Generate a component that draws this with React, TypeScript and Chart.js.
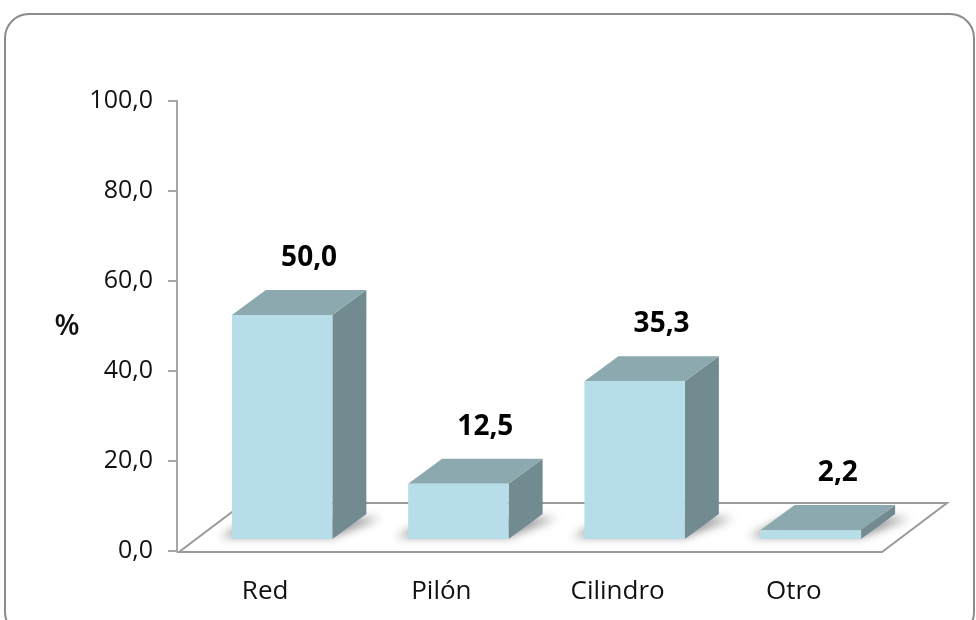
import { useEffect, useRef } from 'react';
import { Chart, registerables } from 'chart.js';

Chart.register(...registerables);

// ---- data ----
const categories = ['Red', 'Pilón', 'Cilindro', 'Otro'];
const percentages = [50.0, 12.5, 35.3, 2.2];
const yMin = 0;
const yMax = 100;
const yStep = 20;
const yTitle = '%';

// ---- styling ----
const FONT = '"Open Sans", "Liberation Sans", sans-serif';
const TEXT = '#111111';
const AXIS = '#A6A6A6';
const FRAME = '#8C8C8C';
const FLOOR_LINE = '#9A9A9A';
const FACE_FRONT = '#B7DEE8';
const FACE_TOP = '#8BA9AF';
const FACE_SIDE = '#728B90';

// oblique projection of the floor and bars
const FLOOR_DX = 65;
const FLOOR_DY = 49;
const BAR_SHIFT_X = 17;
const BAR_SHIFT_Y = 11;
const BAR_DX = 34;
const BAR_DY = 25;

const fmt = (v: number) => Number(v).toFixed(1).replace('.', ',');

const framePlugin = {
  id: 'frame',
  beforeDraw(chart: any) {
    const ctx = chart.ctx;
    ctx.save();
    ctx.fillStyle = '#ffffff';
    ctx.fillRect(0, 0, chart.width, chart.height);
    ctx.beginPath();
    ctx.roundRect(5, 14, 969, 622, 24);
    ctx.strokeStyle = FRAME;
    ctx.lineWidth = 2;
    ctx.stroke();
    ctx.restore();
  },
};

type Box = { x0: number; x1: number; top: number; bottom: number };

const boxesOf = (chart: any): Box[] => {
  const meta = chart.getDatasetMeta(0);
  return meta.data.map((el: any) => {
    const x0 = el.x - el.width / 2 + BAR_SHIFT_X;
    return {
      x0,
      x1: x0 + el.width,
      top: el.y - BAR_SHIFT_Y,
      bottom: el.base - BAR_SHIFT_Y,
    };
  });
};

const bars3dPlugin = {
  id: 'bars3d',
  beforeDatasetsDraw(chart: any) {
    const ctx = chart.ctx;
    const { left, right, bottom } = chart.chartArea;
    ctx.save();
    // floor
    const fl = left + 2;
    const fb = bottom + 1;
    ctx.beginPath();
    ctx.moveTo(fl, fb);
    ctx.lineTo(right, fb);
    ctx.lineTo(right + FLOOR_DX, fb - FLOOR_DY);
    ctx.lineTo(fl + FLOOR_DX, fb - FLOOR_DY);
    ctx.closePath();
    ctx.fillStyle = '#ffffff';
    ctx.fill();
    ctx.strokeStyle = FLOOR_LINE;
    ctx.lineWidth = 2;
    ctx.stroke();

    // soft shadows under each bar
    ctx.save();
    ctx.filter = 'blur(5px)';
    ctx.fillStyle = 'rgba(0,0,0,0.42)';
    for (const b of boxesOf(chart)) {
      ctx.beginPath();
      ctx.moveTo(b.x0 - 12, b.bottom - 2);
      ctx.lineTo(b.x1, b.bottom - 2);
      ctx.lineTo(b.x1 + BAR_DX + 14, b.bottom - BAR_DY + 4);
      ctx.lineTo(b.x0 + BAR_DX - 10, b.bottom - BAR_DY + 4);
      ctx.closePath();
      ctx.fill();
    }
    ctx.restore();
    ctx.restore();
  },
  afterDatasetsDraw(chart: any) {
    const ctx = chart.ctx;
    const boxes = boxesOf(chart);
    const values = chart.data.datasets[0].data as number[];
    ctx.save();
    boxes.forEach((b, i) => {
      // side face
      ctx.beginPath();
      ctx.moveTo(b.x1, b.top);
      ctx.lineTo(b.x1 + BAR_DX, b.top - BAR_DY);
      ctx.lineTo(b.x1 + BAR_DX, b.bottom - BAR_DY);
      ctx.lineTo(b.x1, b.bottom);
      ctx.closePath();
      ctx.fillStyle = FACE_SIDE;
      ctx.fill();
      // top face
      ctx.beginPath();
      ctx.moveTo(b.x0, b.top);
      ctx.lineTo(b.x0 + BAR_DX, b.top - BAR_DY);
      ctx.lineTo(b.x1 + BAR_DX, b.top - BAR_DY);
      ctx.lineTo(b.x1, b.top);
      ctx.closePath();
      ctx.fillStyle = FACE_TOP;
      ctx.fill();
      // front face
      ctx.fillStyle = FACE_FRONT;
      ctx.fillRect(b.x0, b.top, b.x1 - b.x0, b.bottom - b.top);

      // value label
      ctx.font = `bold 28px ${FONT}`;
      ctx.fillStyle = '#000000';
      ctx.textAlign = 'center';
      ctx.textBaseline = 'alphabetic';
      const cx = (b.x0 + b.x1) / 2 + 27;
      ctx.fillText(fmt(values[i]), cx, b.top - BAR_DY - 24);
    });

    // y-axis title, horizontal, at the middle of the axis
    const { top, bottom } = chart.chartArea;
    ctx.font = `600 29px ${FONT}`;
    ctx.fillStyle = TEXT;
    ctx.textAlign = 'center';
    ctx.textBaseline = 'middle';
    ctx.fillText(yTitle, 67, (top + bottom) / 2 + 1);
    ctx.restore();
  },
};

export default function App() {
  const canvasRef = useRef<HTMLCanvasElement | null>(null);

  useEffect(() => {
    const canvas = canvasRef.current;
    if (!canvas) return;
    const chart = new Chart(canvas, {
      type: 'bar',
      data: {
        labels: categories,
        datasets: [
          {
            data: percentages,
            backgroundColor: 'rgba(0,0,0,0)',
            borderWidth: 0,
            barPercentage: 0.57,
            categoryPercentage: 1,
          },
        ],
      },
      options: {
        animation: false,
        responsive: true,
        maintainAspectRatio: false,
        layout: { padding: { top: 101, right: 94, bottom: 0, left: 0 } },
        plugins: {
          legend: { display: false },
          tooltip: { enabled: false },
          title: { display: false },
        },
        scales: {
          x: {
            grid: { display: false, drawTicks: false },
            border: { display: false },
            ticks: {
              font: { family: FONT, size: 26 },
              color: TEXT,
              padding: 25,
            },
            afterFit(scale: any) {
              scale.height = 69;
            },
          },
          y: {
            min: yMin,
            max: yMax,
            ticks: {
              stepSize: yStep,
              callback: (v: any) => fmt(v),
              font: { family: FONT, size: 25 },
              color: TEXT,
              padding: 15,
            },
            grid: {
              drawOnChartArea: false,
              drawTicks: true,
              tickLength: 9,
              color: AXIS,
              lineWidth: 2,
            },
            border: { display: true, color: AXIS, width: 2 },
            afterFit(scale: any) {
              scale.width = 177;
            },
          },
        },
      },
      plugins: [framePlugin, bars3dPlugin],
    });
    return () => chart.destroy();
  }, []);

  return (
    <div style={{ position: 'fixed', left: 0, top: 0, width: 976, height: 620 }}>
      <canvas ref={canvasRef} />
    </div>
  );
}
